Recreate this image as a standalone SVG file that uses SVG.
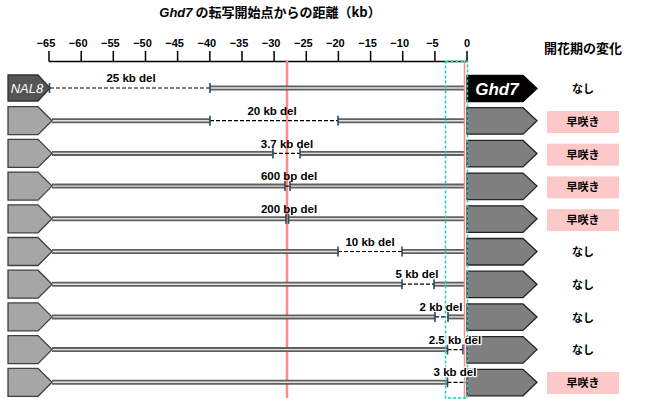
<svg xmlns="http://www.w3.org/2000/svg" width="655" height="399" viewBox="0 0 655 399">
<style>
.t{font-family:"Liberation Sans","Noto Sans CJK JP",sans-serif;font-weight:bold;fill:#000}
.jp{font-family:"Noto Sans CJK JP","Liberation Sans",sans-serif;font-weight:bold;fill:#000}
.tick{font-size:11px;text-anchor:middle}
.del{font-size:11.5px;text-anchor:middle}
.halo{stroke:#fff;stroke-width:2.5;paint-order:stroke;stroke-linejoin:round}
.res{font-size:11px;text-anchor:middle}
.lp{fill:#a6a6a6;stroke:#404040;stroke-width:1.3}
.rp{fill:#7f7f7f;stroke:#222;stroke-width:1.3}
.dl1{stroke:#606060;stroke-width:5;fill:none}
.dl2{stroke:#e2e2e2;stroke-width:1.4;fill:none}
.dash{stroke:#000;stroke-width:1.2;stroke-dasharray:4 2;fill:none}
.bk{stroke:#2b4a5e;stroke-width:1.6}
.box{fill:#fcc8c8}
</style>

<g id="title">
<text class="jp" x="270" y="17" font-size="13" text-anchor="middle"><tspan class="t" font-style="italic">Ghd7</tspan> の転写開始点からの距離（kb）</text>
</g>
<g id="header">
<text class="jp" x="583" y="53" font-size="13" text-anchor="middle">開花期の変化</text>
</g>
<g id="axis" stroke="#000" stroke-width="1.5">
<line x1="49" y1="61.5" x2="467" y2="61.5"/>
<line x1="49" y1="51" x2="49" y2="61.5"/>
<line x1="81.2" y1="51" x2="81.2" y2="61.5"/>
<line x1="113.3" y1="51" x2="113.3" y2="61.5"/>
<line x1="145.5" y1="51" x2="145.5" y2="61.5"/>
<line x1="177.6" y1="51" x2="177.6" y2="61.5"/>
<line x1="209.8" y1="51" x2="209.8" y2="61.5"/>
<line x1="242" y1="51" x2="242" y2="61.5"/>
<line x1="274.1" y1="51" x2="274.1" y2="61.5"/>
<line x1="306.3" y1="51" x2="306.3" y2="61.5"/>
<line x1="338.4" y1="51" x2="338.4" y2="61.5"/>
<line x1="370.6" y1="51" x2="370.6" y2="61.5"/>
<line x1="402.7" y1="51" x2="402.7" y2="61.5"/>
<line x1="434.9" y1="51" x2="434.9" y2="61.5"/>
<line x1="467" y1="51" x2="467" y2="61.5"/>
</g>
<g id="axis-labels" class="t tick">
<text x="46" y="47">−65</text>
<text x="78.2" y="47">−60</text>
<text x="110.3" y="47">−55</text>
<text x="142.5" y="47">−50</text>
<text x="174.6" y="47">−45</text>
<text x="206.8" y="47">−40</text>
<text x="239" y="47">−35</text>
<text x="271.1" y="47">−30</text>
<text x="303.3" y="47">−25</text>
<text x="335.4" y="47">−20</text>
<text x="367.6" y="47">−15</text>
<text x="399.7" y="47">−10</text>
<text x="432.4" y="47">−5</text>
<text x="467" y="47">0</text>
</g>

<g id="red-line">
<line x1="287" y1="61" x2="287" y2="398" stroke="#ff8a8a" stroke-width="2.5"/>
</g>

<g id="connectors">
<line class="dl1" x1="210" y1="88" x2="465" y2="88"/><line class="dl2" x1="210" y1="88" x2="465" y2="88"/>
<line class="dash" x1="50" y1="88" x2="210" y2="88"/>
<line class="bk" x1="49.5" y1="83" x2="49.5" y2="93"/><line class="bk" x1="210" y1="83" x2="210" y2="93"/>
<line class="dl1" x1="52" y1="120.7" x2="210" y2="120.7"/><line class="dl2" x1="52" y1="120.7" x2="210" y2="120.7"/>
<line class="dl1" x1="338" y1="120.7" x2="465" y2="120.7"/><line class="dl2" x1="338" y1="120.7" x2="465" y2="120.7"/>
<line class="dash" x1="210" y1="120.7" x2="338" y2="120.7"/>
<line class="bk" x1="210" y1="115.7" x2="210" y2="125.7"/><line class="bk" x1="338" y1="115.7" x2="338" y2="125.7"/>
<line class="dl1" x1="52" y1="153.4" x2="273" y2="153.4"/><line class="dl2" x1="52" y1="153.4" x2="273" y2="153.4"/>
<line class="dl1" x1="300" y1="153.4" x2="465" y2="153.4"/><line class="dl2" x1="300" y1="153.4" x2="465" y2="153.4"/>
<line class="dash" x1="273" y1="153.4" x2="300" y2="153.4"/>
<line class="bk" x1="273" y1="148.4" x2="273" y2="158.4"/><line class="bk" x1="300" y1="148.4" x2="300" y2="158.4"/>
<line class="dl1" x1="52" y1="186.1" x2="285" y2="186.1"/><line class="dl2" x1="52" y1="186.1" x2="285" y2="186.1"/>
<line class="dl1" x1="290" y1="186.1" x2="465" y2="186.1"/><line class="dl2" x1="290" y1="186.1" x2="465" y2="186.1"/>
<line class="dash" x1="285" y1="186.1" x2="290" y2="186.1"/>
<line class="bk" x1="285" y1="181.1" x2="285" y2="191.1"/><line class="bk" x1="290" y1="181.1" x2="290" y2="191.1"/>
<line class="dl1" x1="52" y1="218.8" x2="286" y2="218.8"/><line class="dl2" x1="52" y1="218.8" x2="286" y2="218.8"/>
<line class="dl1" x1="288.5" y1="218.8" x2="465" y2="218.8"/><line class="dl2" x1="288.5" y1="218.8" x2="465" y2="218.8"/>
<line class="bk" x1="286" y1="213.8" x2="286" y2="223.8"/><line class="bk" x1="288.5" y1="213.8" x2="288.5" y2="223.8"/>
<line class="dl1" x1="52" y1="251.5" x2="338" y2="251.5"/><line class="dl2" x1="52" y1="251.5" x2="338" y2="251.5"/>
<line class="dl1" x1="402" y1="251.5" x2="465" y2="251.5"/><line class="dl2" x1="402" y1="251.5" x2="465" y2="251.5"/>
<line class="dash" x1="338" y1="251.5" x2="402" y2="251.5"/>
<line class="bk" x1="338" y1="246.5" x2="338" y2="256.5"/><line class="bk" x1="402" y1="246.5" x2="402" y2="256.5"/>
<line class="dl1" x1="52" y1="284.2" x2="402" y2="284.2"/><line class="dl2" x1="52" y1="284.2" x2="402" y2="284.2"/>
<line class="dl1" x1="434" y1="284.2" x2="465" y2="284.2"/><line class="dl2" x1="434" y1="284.2" x2="465" y2="284.2"/>
<line class="dash" x1="402" y1="284.2" x2="434" y2="284.2"/>
<line class="bk" x1="402" y1="279.2" x2="402" y2="289.2"/><line class="bk" x1="434" y1="279.2" x2="434" y2="289.2"/>
<line class="dl1" x1="52" y1="316.9" x2="435" y2="316.9"/><line class="dl2" x1="52" y1="316.9" x2="435" y2="316.9"/>
<line class="dl1" x1="448" y1="316.9" x2="465" y2="316.9"/><line class="dl2" x1="448" y1="316.9" x2="465" y2="316.9"/>
<line class="dash" x1="435" y1="316.9" x2="448" y2="316.9"/>
<line class="bk" x1="435" y1="311.9" x2="435" y2="321.9"/><line class="bk" x1="448" y1="311.9" x2="448" y2="321.9"/>
<line class="dl1" x1="52" y1="349.6" x2="447.5" y2="349.6"/><line class="dl2" x1="52" y1="349.6" x2="447.5" y2="349.6"/>
<line class="dash" x1="447.5" y1="349.6" x2="463" y2="349.6"/>
<line class="bk" x1="447.5" y1="344.6" x2="447.5" y2="354.6"/><line class="bk" x1="463" y1="344.6" x2="463" y2="354.6"/>
<line class="dl1" x1="52" y1="382.3" x2="447.5" y2="382.3"/><line class="dl2" x1="52" y1="382.3" x2="447.5" y2="382.3"/>
<line class="dash" x1="447.5" y1="382.3" x2="466" y2="382.3"/>
<line class="bk" x1="447.5" y1="377.3" x2="447.5" y2="387.3"/>
</g>

<g id="red-line-0">
<line x1="464.5" y1="61" x2="464.5" y2="398" stroke="#ff8a8a" stroke-width="1.5"/>
</g>

<g id="nal8">
<polygon points="8,75 38,75 50,88 38,101 8,101" fill="#555" stroke="#333" stroke-width="1.3"/>
<text x="27" y="93" font-family="Liberation Sans,sans-serif" font-style="italic" font-size="13" fill="#fff" text-anchor="middle">NAL8</text>
</g>
<g id="left2"><polygon class="lp" points="8,106.7 38,106.7 52,120.7 38,134.7 8,134.7"/></g>
<g id="left3"><polygon class="lp" points="8,139.4 38,139.4 52,153.4 38,167.4 8,167.4"/></g>
<g id="left4"><polygon class="lp" points="8,172.1 38,172.1 52,186.1 38,200.1 8,200.1"/></g>
<g id="left5"><polygon class="lp" points="8,204.8 38,204.8 52,218.8 38,232.8 8,232.8"/></g>
<g id="left6"><polygon class="lp" points="8,237.5 38,237.5 52,251.5 38,265.5 8,265.5"/></g>
<g id="left7"><polygon class="lp" points="8,270.2 38,270.2 52,284.2 38,298.2 8,298.2"/></g>
<g id="left8"><polygon class="lp" points="8,302.9 38,302.9 52,316.9 38,330.9 8,330.9"/></g>
<g id="left9"><polygon class="lp" points="8,335.6 38,335.6 52,349.6 38,363.6 8,363.6"/></g>
<g id="left10"><polygon class="lp" points="8,368.3 38,368.3 52,382.3 38,396.3 8,396.3"/></g>

<g id="ghd7">
<polygon points="467,75.5 523,75.5 537,88.5 523,101.5 467,101.5" fill="#000" stroke="#000" stroke-width="1.3"/>
<text x="497" y="95" font-family="Liberation Sans,sans-serif" font-style="italic" font-weight="bold" font-size="17" fill="#fff" text-anchor="middle">Ghd7</text>
</g>
<g id="right2"><polygon class="rp" points="467,107.7 523,107.7 537,120.7 523,134.2 467,134.2"/></g>
<g id="right3"><polygon class="rp" points="467,140.4 523,140.4 537,153.4 523,166.9 467,166.9"/></g>
<g id="right4"><polygon class="rp" points="467,173.1 523,173.1 537,186.1 523,199.6 467,199.6"/></g>
<g id="right5"><polygon class="rp" points="467,205.8 523,205.8 537,218.8 523,232.3 467,232.3"/></g>
<g id="right6"><polygon class="rp" points="467,238.5 523,238.5 537,251.5 523,265 467,265"/></g>
<g id="right7"><polygon class="rp" points="467,271.2 523,271.2 537,284.2 523,297.7 467,297.7"/></g>
<g id="right8"><polygon class="rp" points="467,303.9 523,303.9 537,316.9 523,330.4 467,330.4"/></g>
<g id="right9"><polygon class="rp" points="467,336.6 523,336.6 537,349.6 523,363.1 467,363.1"/></g>
<g id="right10"><polygon class="rp" points="467,369.3 523,369.3 537,382.3 523,395.8 467,395.8"/></g>

<g id="region">
<rect x="445.5" y="61.5" width="22" height="336.5" fill="none" stroke="#1ccfb0" stroke-width="1.5" stroke-dasharray="3 2"/>
</g>

<g id="del-labels" class="t del">
<text x="131" y="82">25 kb del</text>
<text x="272" y="115">20 kb del</text>
<text x="287" y="147.5">3.7 kb del</text>
<text x="289" y="180">600 bp del</text>
<text x="289" y="212.5">200 bp del</text>
<text x="370" y="245.5">10 kb del</text>
<text x="417" y="278">5 kb del</text>
<text x="441" y="310.5">2 kb del</text>
<text class="halo" x="455" y="343.5">2.5 kb del</text>
<text class="halo" x="455" y="376">3 kb del</text>
</g>

<g id="result1"><text class="jp res" x="583" y="93">なし</text></g>
<g id="result2"><rect class="box" x="547" y="111" width="72" height="22"/><text class="jp res" x="583" y="126">早咲き</text></g>
<g id="result3"><rect class="box" x="547" y="143.7" width="72" height="22"/><text class="jp res" x="583" y="158.7">早咲き</text></g>
<g id="result4"><rect class="box" x="547" y="176.4" width="72" height="22"/><text class="jp res" x="583" y="191.4">早咲き</text></g>
<g id="result5"><rect class="box" x="547" y="209.1" width="72" height="22"/><text class="jp res" x="583" y="224.1">早咲き</text></g>
<g id="result6"><text class="jp res" x="583" y="256">なし</text></g>
<g id="result7"><text class="jp res" x="583" y="289">なし</text></g>
<g id="result8"><text class="jp res" x="583" y="321.5">なし</text></g>
<g id="result9"><text class="jp res" x="583" y="354">なし</text></g>
<g id="result10"><rect class="box" x="547" y="372" width="72" height="22"/><text class="jp res" x="583" y="387">早咲き</text></g>
</svg>
